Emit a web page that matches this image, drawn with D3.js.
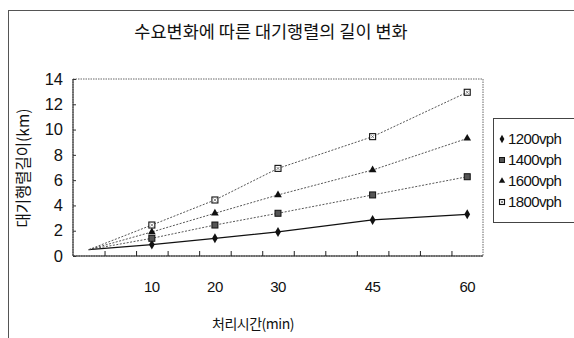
<!DOCTYPE html>
<html><head><meta charset="utf-8">
<script src="https://cdn.jsdelivr.net/npm/d3@7"></script>
<style>
body{margin:0;background:#fff;}
text{font-family:"Liberation Sans",Arial,sans-serif;fill:#111;}
.ko{font-family:"Noto Sans CJK KR","Noto Sans",sans-serif;}
</style></head>
<body><svg id="c" width="574" height="338"></svg>
<script>
const times = [0, 10, 20, 30, 45, 60];
const seriesNames = ["1200vph", "1400vph", "1600vph", "1800vph"];
const v1200 = [0.5, 0.9, 1.4, 1.9, 2.85, 3.3];
const v1400 = [0.5, 1.4, 2.45, 3.38, 4.83, 6.27];
const v1600 = [0.5, 1.9, 3.38, 4.83, 6.8, 9.3];
const v1800 = [0.5, 2.45, 4.43, 6.93, 9.44, 12.95];
const xLabels = [10, 20, 30, 45, 60];
const yTicks = [0, 2, 4, 6, 8, 10, 12, 14];
const title = "수요변화에 따른 대기행렬의 길이 변화";
const xTitle = "처리시간(min)";
const yTitle = "대기행렬길이(km)";

const seriesValues = [v1200, v1400, v1600, v1800];
const svg = d3.select("#c");
const L = 73, R = 483, T = 79, B = 256;
const x = d3.scaleLinear().domain([-2.5, 62.5]).range([L, R]);
const y = d3.scaleLinear().domain([0, 14]).range([B, T]);

// outer frame (only top & left visible)
svg.append("rect").attr("x", 8.5).attr("y", 10.5).attr("width", 700).attr("height", 500)
  .attr("fill", "none").attr("stroke", "#555").attr("stroke-width", 1);

svg.append("text").attr("class", "ko").attr("x", 271).attr("y", 38)
  .attr("text-anchor", "middle").attr("font-size", 17.5).text(title);

// plot area border
svg.append("rect").attr("x", L).attr("y", T).attr("width", R - L).attr("height", B - T)
  .attr("fill", "none").attr("stroke", "#666").attr("stroke-width", 1).attr("stroke-dasharray", "1.5,1");
svg.append("line").attr("x1", L).attr("x2", R).attr("y1", B).attr("y2", B)
  .attr("stroke", "#222").attr("stroke-width", 1.2);
svg.append("line").attr("x1", L).attr("x2", L).attr("y1", T).attr("y2", B)
  .attr("stroke", "#222").attr("stroke-width", 1);

// y axis
const yAxis = d3.axisLeft(y).tickValues(yTicks).tickSize(-3).tickPadding(10).tickFormat(d3.format("d"));
const ya = svg.append("g").attr("transform", `translate(${L},0)`).call(yAxis);
ya.select(".domain").remove();
ya.selectAll("line").attr("stroke", "#333");
ya.selectAll("text").attr("font-size", 16.5).attr("font-family", "Liberation Sans, Arial, sans-serif").attr("fill", "#111");

// x axis: tick marks at slot boundaries
const bounds = d3.range(2.5, 60, 5);
const xAxis = d3.axisBottom(x).tickValues(bounds).tickSize(-5).tickFormat("");
const xa = svg.append("g").attr("transform", `translate(0,${B})`).call(xAxis);
xa.select(".domain").remove();
xa.selectAll("line").attr("stroke", "#222");
svg.append("g").selectAll("text").data(xLabels).join("text")
  .attr("x", d => x(d)).attr("y", 292).attr("text-anchor", "middle")
  .attr("font-size", 15).attr("letter-spacing", -0.5).text(d => d);

svg.append("text").attr("class", "ko").attr("x", 253).attr("y", 329)
  .attr("text-anchor", "middle").attr("font-size", 14).attr("letter-spacing", -0.5).text(xTitle);
svg.append("text").attr("class", "ko").attr("transform", "translate(29,168) rotate(-90)")
  .attr("text-anchor", "middle").attr("font-size", 15.5).text(yTitle);

// lines
const line = d3.line().x((d, i) => x(times[i])).y(d => y(d));
const lineStyles = [
  {stroke: "#111", width: 1.3, dash: null},
  {stroke: "#444", width: 0.9, dash: "2,1.5"},
  {stroke: "#444", width: 0.9, dash: "2,1.5"},
  {stroke: "#444", width: 0.9, dash: "2,1.5"}
];
seriesValues.forEach((vals, s) => {
  svg.append("path").datum(vals).attr("d", line).attr("fill", "none")
    .attr("stroke", lineStyles[s].stroke).attr("stroke-width", lineStyles[s].width)
    .attr("stroke-dasharray", lineStyles[s].dash);
});

function marker(g, s, cx, cy, sz) {
  if (s === 0) {
    g.append("path").attr("d", d3.symbol(d3.symbolDiamond, sz * sz * 0.8)()).attr("transform", `translate(${cx},${cy})`).attr("fill", "#111");
  } else if (s === 1) {
    g.append("rect").attr("x", cx - sz / 2).attr("y", cy - sz / 2).attr("width", sz).attr("height", sz)
      .attr("fill", "#555").attr("stroke", "#111").attr("stroke-width", 1);
  } else if (s === 2) {
    g.append("path").attr("d", d3.symbol(d3.symbolTriangle, sz * sz * 0.7)()).attr("transform", `translate(${cx},${cy})`).attr("fill", "#111");
  } else {
    g.append("rect").attr("x", cx - sz / 2).attr("y", cy - sz / 2).attr("width", sz).attr("height", sz)
      .attr("fill", "#fff").attr("stroke", "#111").attr("stroke-width", 1.1);
    g.append("path").attr("d", `M${cx - sz / 4},${cy - sz / 4}L${cx + sz / 4},${cy + sz / 4}M${cx + sz / 4},${cy - sz / 4}L${cx - sz / 4},${cy + sz / 4}`)
      .attr("stroke", "#555").attr("stroke-width", 0.7);
  }
}
const mg = svg.append("g");
seriesValues.forEach((vals, s) => {
  vals.forEach((v, i) => { if (i > 0) marker(mg, s, x(times[i]), y(v), 6); });
});

// legend
const lg = svg.append("g");
lg.append("rect").attr("x", 493.5).attr("y", 118.5).attr("width", 100).attr("height", 104)
  .attr("fill", "#fff").attr("stroke", "#444").attr("stroke-width", 1);
seriesNames.forEach((n, s) => {
  const cy = 139 + s * 21;
  marker(lg, s, 502, cy, 5);
  lg.append("text").attr("x", 508).attr("y", cy + 5).attr("font-size", 15).attr("letter-spacing", -0.6).text(n);
});
</script></body></html>
